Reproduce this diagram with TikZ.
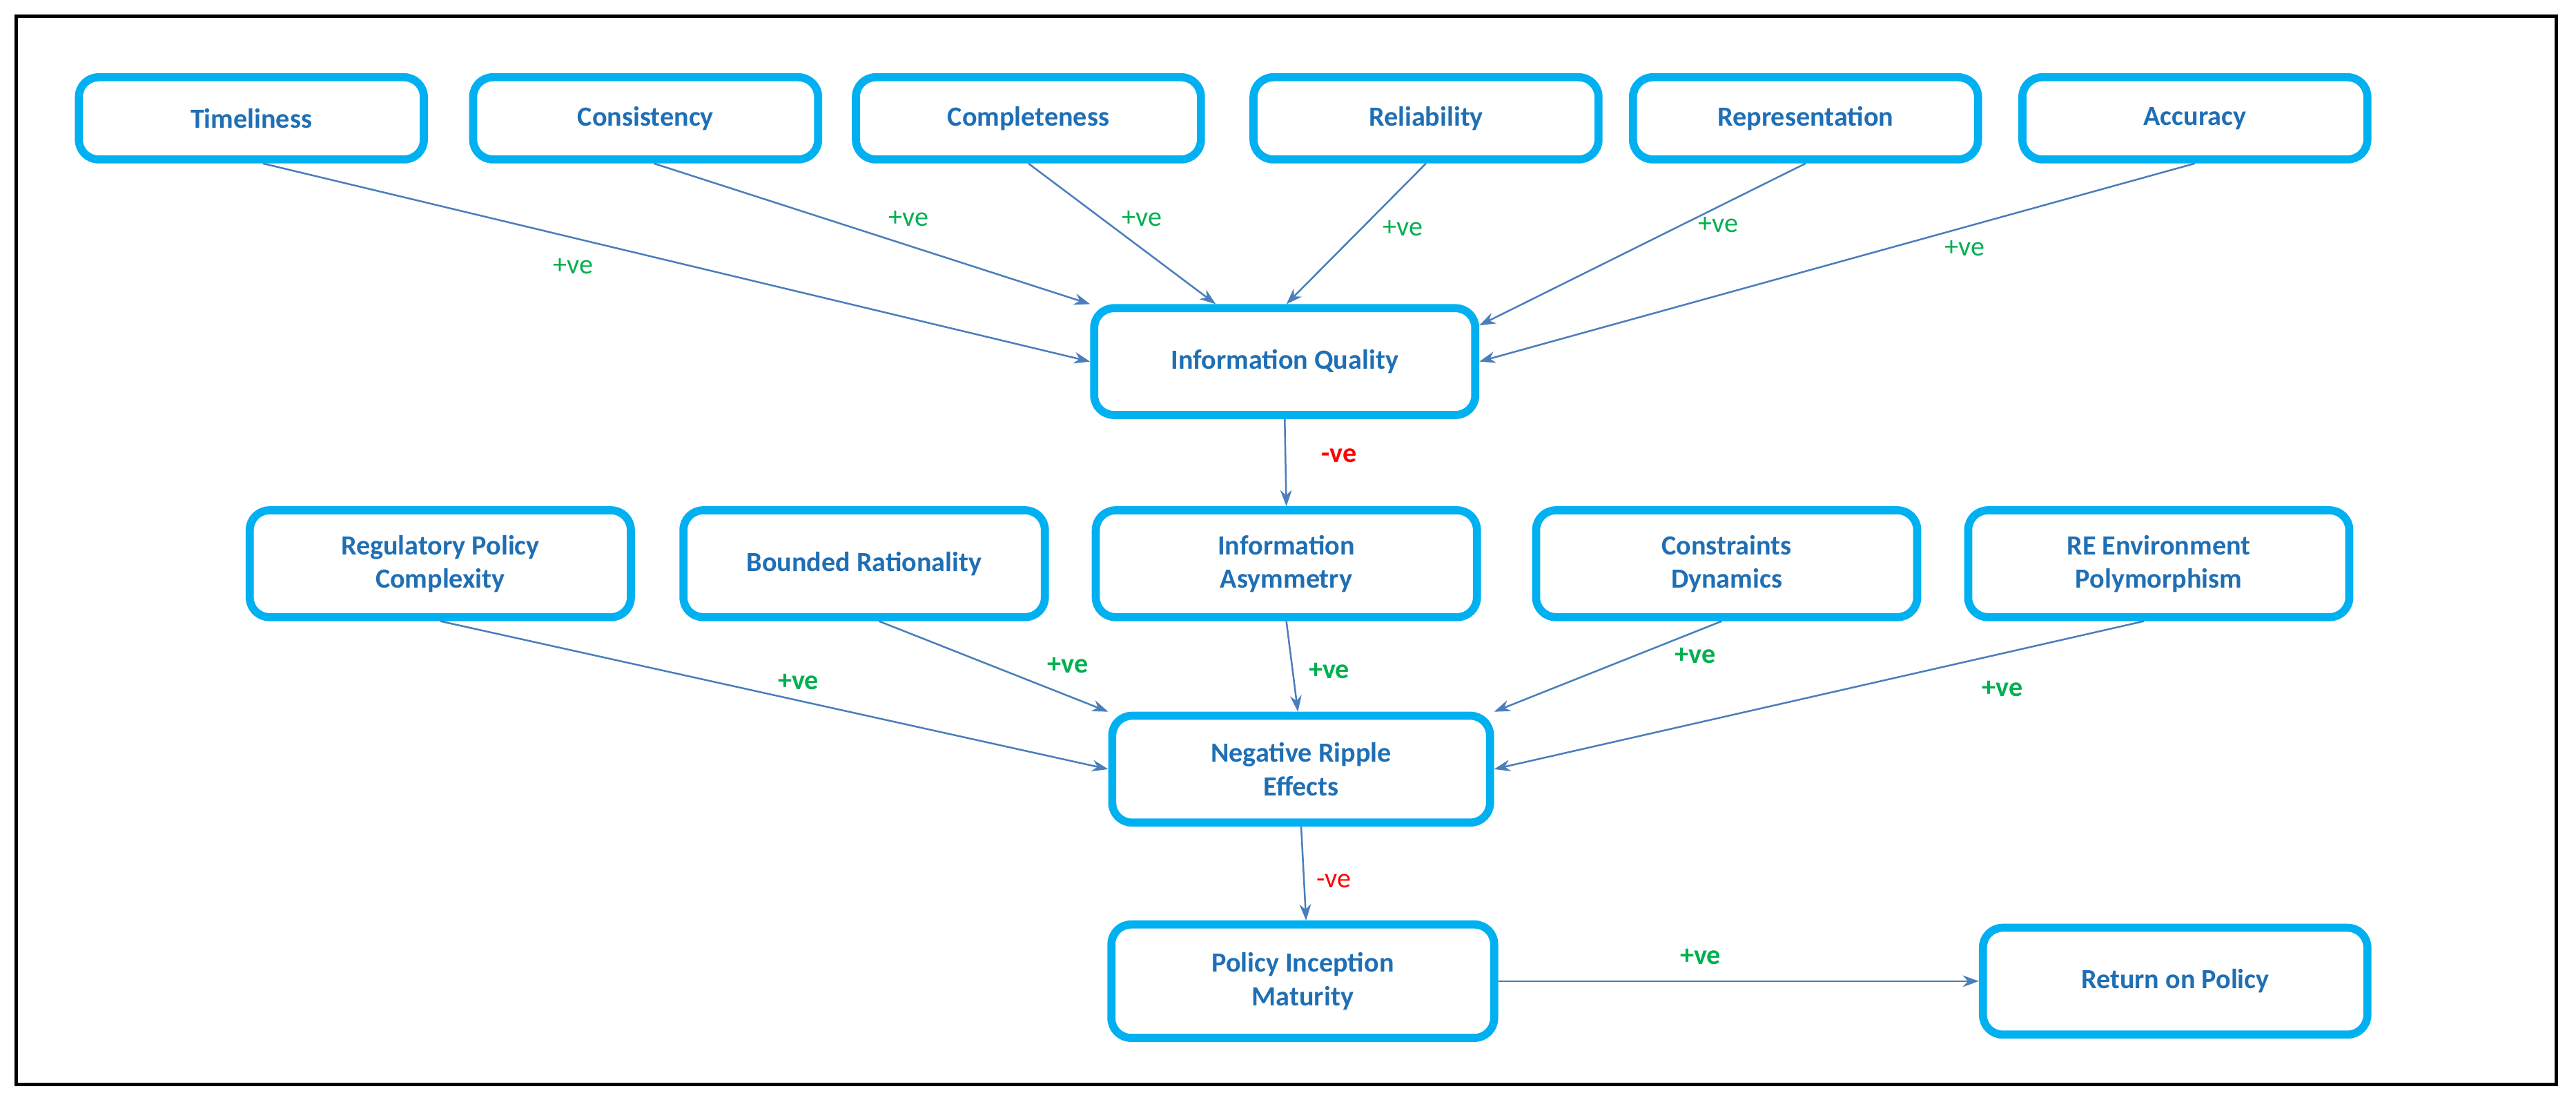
\documentclass[tikz,border=0pt]{standalone}
\usepackage{fontspec}
\setmainfont{Carlito}
\usetikzlibrary{calc,arrows.meta}
\definecolor{boxc}{HTML}{00B0F0}
\definecolor{txtc}{HTML}{1F6FB5}
\definecolor{arrc}{HTML}{4A7EBB}
\definecolor{pos}{HTML}{00B050}
\definecolor{negc}{HTML}{FF0000}
\begin{document}
\begin{tikzpicture}[x=0.05cm,y=-0.05cm,
  box/.style={draw=boxc,line width=7pt,rounded corners=0.6cm,fill=white,
    text=txtc,font=\fontsize{24}{29}\selectfont\bfseries,align=center,
    minimum height=2.5cm,inner sep=2pt},
  sm/.style={box,minimum width=10.5cm,minimum height=2.5cm},
  big/.style={box,minimum width=11.6cm,minimum height=3.25cm},
  arr/.style={draw=arrc,line width=1.5pt,-{Stealth[length=14pt,width=10pt]}},
  pl/.style={text=pos,font=\fontsize{24}{29}\selectfont},
  plb/.style={text=pos,font=\fontsize{24}{29}\selectfont\bfseries},
  mi/.style={text=negc,font=\fontsize{24}{29}\selectfont},
  mib/.style={text=negc,font=\fontsize{24}{29}\selectfont\bfseries}]
\useasboundingbox (0,0) rectangle (1568,669);
\draw[line width=3pt] (10,10) rectangle (1556,660);
\node[sm] (t) at (153,72) {Timeliness};
\node[sm] (c) at (393,72) {Consistency};
\node[sm] (cp) at (626,72) {Completeness};
\node[sm] (r) at (868,72) {Reliability};
\node[sm] (rep) at (1099,72) {Representation};
\node[sm] (acc) at (1336,72) {Accuracy};
\node[big] (iq) at (782,220) {Information Quality};
\node[big] (rpc) at (268,343) {Regulatory Policy\\Complexity};
\node[big,minimum width=11cm] (br) at (526,343) {Bounded Rationality};
\node[big] (ia) at (783,343) {Information\\Asymmetry};
\node[big] (cd) at (1051,343) {Constraints\\Dynamics};
\node[big] (re) at (1314,343) {RE Environment\\Polymorphism};
\node[big,minimum width=11.5cm] (nre) at (792,468) {Negative Ripple\\Effects};
\node[big,minimum width=11.65cm,minimum height=3.45cm] (pim) at (793,597) {Policy Inception\\Maturity};
\node[big,minimum width=11.7cm] (rop) at (1324,597) {Return on Policy};
\draw[arr] ($(t.south)+(7,0)$) -- (iq.west);
\draw[arr] ($(c.south)+(5,0)$) -- (iq.north west);
\draw[arr] (cp.south) -- ($(iq.north)+(-42,0)$);
\draw[arr] (r.south) -- ($(iq.north)+(1,0)$);
\draw[arr] (rep.south) -- ($(iq.east)+(0,-22)$);
\draw[arr] (acc.south) -- (iq.east);
\draw[arr] (iq.south) -- (ia.north);
\draw[arr] (rpc.south) -- (nre.west);
\draw[arr] ($(br.south)+(9,0)$) -- (nre.north west);
\draw[arr] (ia.south) -- ($(nre.north)+(-2,0)$);
\draw[arr] ($(cd.south)+(-3,0)$) -- (nre.north east);
\draw[arr] ($(re.south)+(-9,0)$) -- (nre.east);
\draw[arr] (nre.south) -- ($(pim.north)+(2,0)$);
\draw[arr] (pim.east) -- (rop.west);
\node[pl] (l1) at (349,162) {+ve};
\node[pl] (l2) at (553,133) {+ve};
\node[pl] (l3) at (695,133) {+ve};
\node[pl] (l4) at (854,139) {+ve};
\node[pl] (l5) at (1046,137) {+ve};
\node[pl] (l6) at (1196,151) {+ve};
\node[mib] (m1) at (815,277) {-ve};
\node[plb] (l7) at (486,415) {+ve};
\node[plb] (l8) at (650,405) {+ve};
\node[plb] (l9) at (809,408) {+ve};
\node[plb] (l10) at (1032,399) {+ve};
\node[plb] (l11) at (1219,419) {+ve};
\node[mi] (m2) at (812,536) {-ve};
\node[plb] (l12) at (1035,582) {+ve};
\end{tikzpicture}
\end{document}
